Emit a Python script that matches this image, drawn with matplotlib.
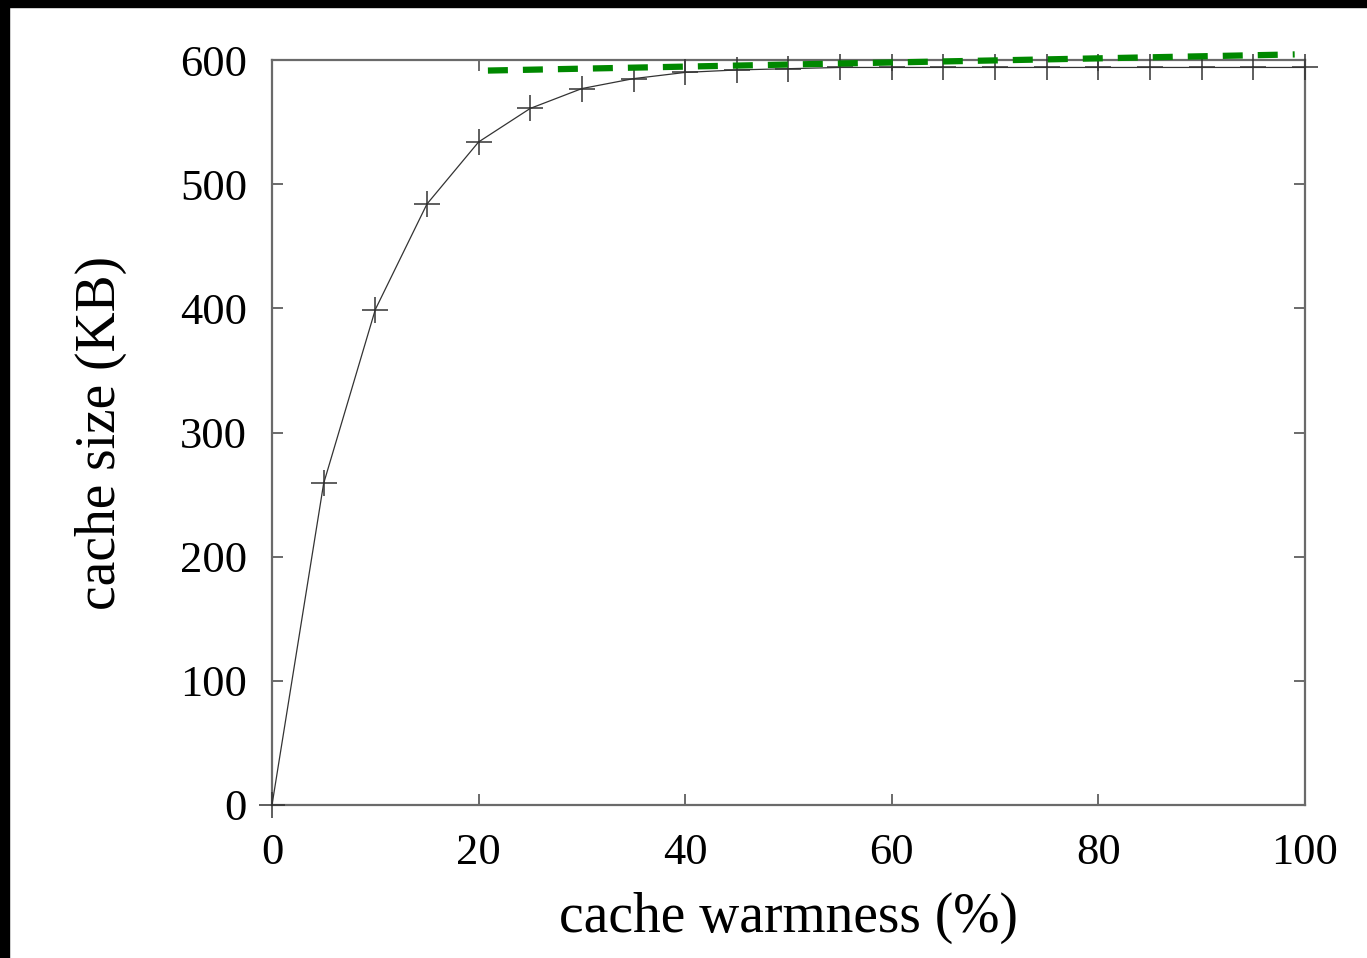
import matplotlib
matplotlib.use('Agg')
import matplotlib.pyplot as plt
from matplotlib.patches import Rectangle

# ── Data ──────────────────────────────────────────────────────────────────────
warmness = [0, 5, 10, 15, 20, 25, 30, 35, 40, 45, 50,
            55, 60, 65, 70, 75, 80, 85, 90, 95, 100]
cache_kb = [0, 259, 399, 484, 534, 561, 577, 585, 590, 592, 593,
            594, 594, 594, 594, 594, 594, 594, 594, 594, 594]

# green dashed trend line (two end points)
trend_x = [20.9, 99.0]
trend_y = [591.5, 604.5]

x_ticks = [0, 20, 40, 60, 80, 100]
y_ticks = [0, 100, 200, 300, 400, 500, 600]

# ── Style ─────────────────────────────────────────────────────────────────────
plt.rcParams['font.family'] = ['Liberation Serif', 'DejaVu Serif']
SPINE_COL = '#6a6a6a'

fig = plt.figure(figsize=(13.67, 9.58), dpi=100)
fig.patch.set_facecolor('white')

# black slide borders (left and top)
fig.patches.append(Rectangle((0, 0), 9 / 1367, 1, transform=fig.transFigure,
                             color='black', zorder=0))
fig.patches.append(Rectangle((0, 1 - 7 / 958), 1, 7 / 958, transform=fig.transFigure,
                             color='black', zorder=0))

ax = fig.add_axes([272 / 1367, 1 - 805 / 958, (1305 - 272) / 1367, (805 - 60) / 958])

ax.plot(warmness, cache_kb, color='#333333', lw=0.9, marker='+',
        markersize=19, markeredgewidth=1.1, clip_on=False, zorder=3)
ax.plot(trend_x, trend_y, color='#008800', lw=4.5, dashes=(3.2, 2.4),
        clip_on=False, zorder=4)

ax.set_xlim(0, 100)
ax.set_ylim(0, 600)
ax.set_xticks(x_ticks)
ax.set_yticks(y_ticks)

ax.tick_params(direction='in', length=8, width=1.4, color=SPINE_COL,
               top=True, right=True, labelsize=32)
ax.tick_params(axis='x', pad=20)
ax.tick_params(axis='y', pad=18)
for s in ax.spines.values():
    s.set_color(SPINE_COL)
    s.set_linewidth(1.6)

ax.set_xlabel('cache warmness (%)', fontsize=40, labelpad=14)
ax.set_ylabel('cache size (KB)', fontsize=40, labelpad=38)

fig.savefig('out.png', dpi=100)
